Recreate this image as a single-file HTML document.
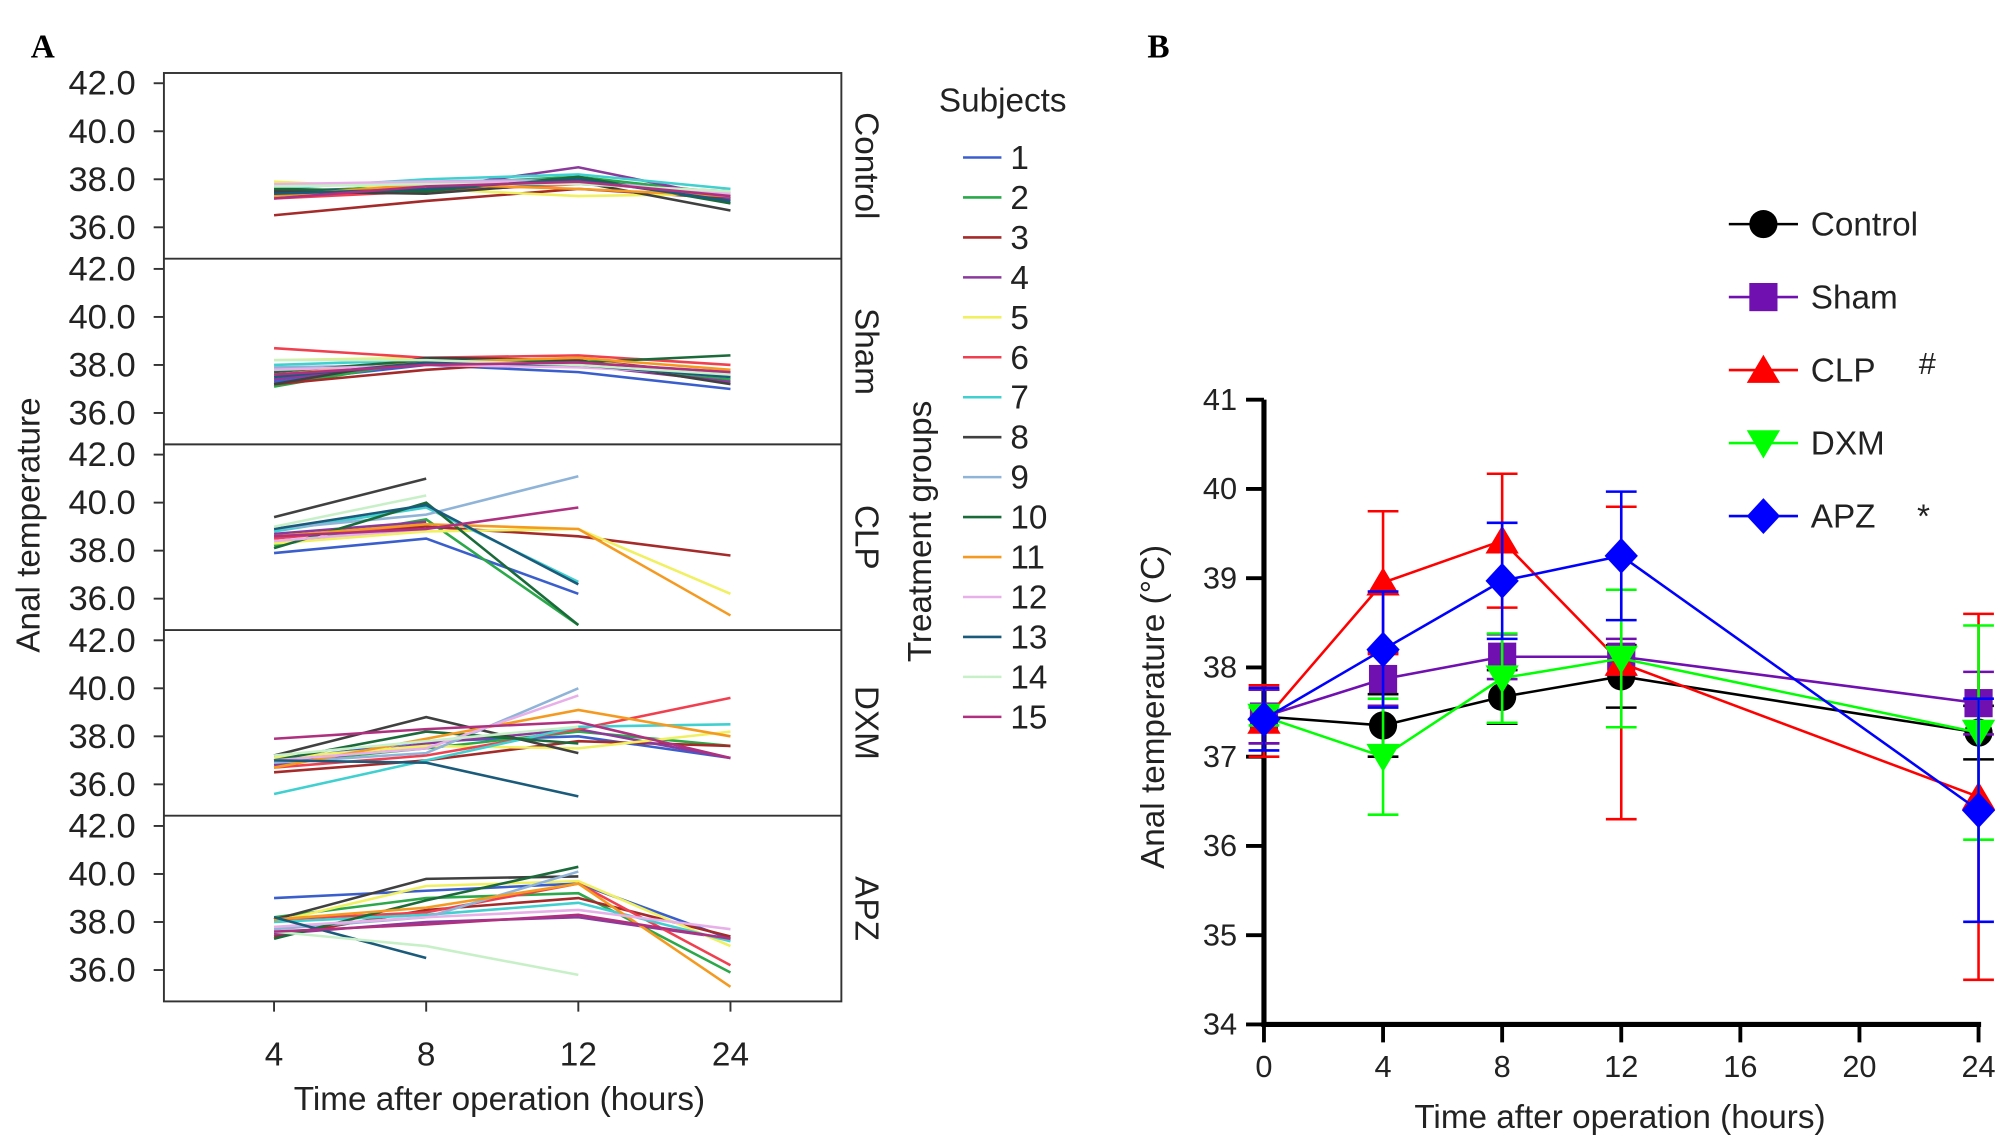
<!DOCTYPE html>
<html><head><meta charset="utf-8"><style>
html,body{margin:0;padding:0;background:#fff}
svg{display:block;font-family:"Liberation Sans",Arial,sans-serif}
</style></head><body>
<svg id="fig" width="2008" height="1147" viewBox="0 0 1568 895.7" preserveAspectRatio="none" xmlns="http://www.w3.org/2000/svg">
<rect width="1568" height="896" fill="#fff"/>
<text x="24" y="45" font-family="Liberation Serif,serif" font-weight="bold" font-size="26">A</text>
<text x="896" y="45" font-family="Liberation Serif,serif" font-weight="bold" font-size="26">B</text>
<g id="A"></g>
<g id="B"></g>
</svg>
<script>
const NS="http://www.w3.org/2000/svg";
// ---- Panel A data ----
const timesA=["4","8","12","24"];
const groupsA=["Control","Sham","CLP","DXM","APZ"];
const yTicksA=[42,40,38,36];
const subjectColors=["#3a5fcd","#2aa84a","#a52a2a","#8b3a9b","#f0f060","#f04050","#40d0d0","#404040","#8fb4d8","#1a6a3a","#f59a20","#e8b0e8","#1a5a7a","#c8f0c8","#b03080"];
const ctrlVals=[[37.5,37.7,38.0,37.3],[37.4,37.8,38.1,37.4],[36.5,37.1,37.6,37.2],[37.3,37.6,38.5,37.2],[37.9,37.6,37.3,37.4],[37.2,37.5,37.8,37.5],[37.6,38.0,38.2,37.6],[37.5,37.4,37.9,36.7],[37.7,37.9,38.0,37.3],[37.6,37.5,38.1,37.0],[37.3,37.8,37.6,37.3],[37.8,37.9,37.9,37.4],[37.4,37.6,38.0,37.1],[37.7,37.8,37.8,37.5],[37.2,37.7,37.9,37.3]];
const shamVals=[[37.3,38.0,37.7,37.0],[37.1,38.2,38.1,37.4],[37.2,37.8,38.2,37.6],[37.4,38.1,38.0,37.3],[38.2,38.3,38.2,37.5],[38.7,38.3,38.4,38.0],[38.0,38.2,38.1,37.7],[37.2,38.3,38.2,37.2],[37.9,38.0,38.0,37.5],[37.7,38.2,38.1,38.4],[37.6,38.1,38.3,37.8],[37.8,38.0,37.9,37.6],[37.5,38.1,38.0,37.5],[38.2,38.2,38.0,37.6],[37.6,38.0,38.1,37.7]];
const clpVals=[[37.9,38.5,36.2,null],[38.2,39.3,34.9,null],[38.6,39.0,38.6,37.8],[38.7,39.2,null,null],[38.3,38.8,38.9,36.2],[38.5,39.1,null,null],[38.8,39.8,36.7,null],[39.4,41.0,null,null],[38.9,39.5,41.1,null],[38.1,40.0,34.9,null],[38.6,39.1,38.9,35.3],[38.4,38.9,null,null],[38.9,39.9,36.6,null],[39.0,40.3,null,null],[38.6,38.9,39.8,null]];
const dxmVals=[[37.0,37.8,38.0,37.1],[36.9,37.5,38.2,37.6],[36.5,37.0,37.8,37.6],[36.8,37.7,38.3,37.1],[37.1,37.6,37.5,38.2],[36.7,37.2,38.3,39.6],[35.6,37.0,38.4,38.5],[37.2,38.8,37.3,null],[36.9,37.3,40.0,null],[37.0,38.2,37.7,null],[36.7,37.9,39.1,38.0],[37.0,37.5,39.7,null],[37.0,36.9,35.5,null],[37.2,37.8,38.4,null],[37.9,38.3,38.6,37.1]];
const apzVals=[[39.0,39.3,39.6,37.3],[38.2,39.0,39.2,35.9],[37.4,38.5,39.0,37.4],[37.5,38.0,38.2,37.3],[38.0,39.5,39.7,37.0],[38.1,38.4,39.6,36.2],[38.0,38.3,38.8,37.2],[38.1,39.8,39.9,null],[37.7,38.2,40.1,null],[37.3,38.9,40.3,null],[38.1,38.6,39.6,35.3],[37.8,38.2,38.5,37.7],[38.2,36.5,null,null],[37.6,37.0,35.8,null],[37.6,37.9,38.3,37.3]];
const groupVals=[ctrlVals,shamVals,clpVals,dxmVals,apzVals];

// ---- Panel B data ----
const timesB=[0,4,8,12,24];
const xTicksB=[0,4,8,12,16,20,24];
const yTicksB=[34,35,36,37,38,39,40,41];
const seriesNames=["Control","Sham","CLP","DXM","APZ"];
const controlMean=[37.45,37.35,37.67,37.9,37.27];
const controlErr=[0.3,0.35,0.3,0.35,0.3];
const shamMean=[37.45,37.87,38.12,38.12,37.6];
const shamErr=[0.3,0.3,0.25,0.2,0.35];
const clpMean=[37.4,38.95,39.42,38.05,36.55];
const clpErr=[0.4,0.8,0.75,1.75,2.05];
const dxmMean=[37.45,37.0,37.88,38.1,37.27];
const dxmErr=[0.1,0.65,0.5,0.77,1.2];
const apzMean=[37.42,38.2,38.97,39.25,36.4];
const apzErr=[0.35,0.65,0.65,0.72,1.25];

function mk(parent,tag,attrs,text){const e=document.createElementNS(NS,tag);for(const k in attrs)e.setAttribute(k,attrs[k]);if(text!==undefined)e.textContent=text;parent.appendChild(e);return e;}

// ---------- Panel A ----------
const A=document.getElementById('A');
const AL=128,AR=657,AT=57,PH=145;
function xA(i){return 214+i*118.8;}
function yA(v,p){return AT+p*PH+8+(42-v)*18.75;}
mk(A,'rect',{x:AL,y:AT,width:AR-AL,height:PH*5,fill:'none',stroke:'#333','stroke-width':1.5});
groupsA.forEach((g,p)=>{
  if(p>0){const l=mk(A,'line',{x1:AL,x2:AR,y1:AT+p*PH,y2:AT+p*PH,stroke:'#333','stroke-width':1.5});}
  yTicksA.forEach(t=>{
    const y=yA(t,p);
    mk(A,'line',{x1:AL-8,x2:AL,y1:y,y2:y,stroke:'#333','stroke-width':1.5});
    const tx=mk(A,'text',{x:AL-22,y:y+9,'text-anchor':'end','font-size':27,fill:'#222'},t.toFixed(1));
    
    
  });
  const cx=675,cy=AT+p*PH+PH/2;
  const st=mk(A,'text',{x:cx,y:cy,transform:`rotate(90 ${cx} ${cy})`,'text-anchor':'middle','dominant-baseline':'middle','font-size':26,fill:'#222'},g);
  
  
  groupVals[p].forEach((vals,s)=>{
    let pts=[];
    vals.forEach((v,i)=>{if(v!==null)pts.push(xA(i).toFixed(1)+','+yA(v,p).toFixed(1));});
    const pl=mk(A,'polyline',{points:pts.join(' '),fill:'none',stroke:subjectColors[s],'stroke-width':2});
    
    
  });
});
timesA.forEach((t,i)=>{
  mk(A,'line',{x1:xA(i),x2:xA(i),y1:AT+PH*5,y2:AT+PH*5+8,stroke:'#333','stroke-width':1.5});
  const tx=mk(A,'text',{x:xA(i),y:832,'text-anchor':'middle','font-size':26,fill:'#222'},t);
  
  
});
let t1=mk(A,'text',{x:390,y:867,'text-anchor':'middle','font-size':26,fill:'#222'},'Time after operation (hours)');

t1=mk(A,'text',{x:31,y:410,transform:'rotate(-90 31 410)','text-anchor':'middle','font-size':26,fill:'#222'},'Anal temperature');

t1=mk(A,'text',{x:727,y:415,transform:'rotate(-90 727 415)','text-anchor':'middle','font-size':26,fill:'#222'},'Treatment groups');

t1=mk(A,'text',{x:783,y:87,'text-anchor':'middle','font-size':26,fill:'#222'},'Subjects');

subjectColors.forEach((c,s)=>{
  const y=123+s*31.2;
  const g=mk(A,'g',{});
  
  
  mk(g,'line',{x1:752,x2:782,y1:y,y2:y,stroke:c,'stroke-width':2});
  mk(g,'text',{x:789,y:y+9,'font-size':26,fill:'#222'},String(s+1));
});

// ---------- Panel B ----------
const B=document.getElementById('B');
function xB(h){return 987+h*23.25;}
function yB(v){return 800-(v-34)*69.7;}
mk(B,'line',{x1:987,x2:987,y1:yB(41),y2:yB(34)+2,stroke:'#000','stroke-width':4});
mk(B,'line',{x1:985,x2:1547,y1:yB(34),y2:yB(34),stroke:'#000','stroke-width':4});
yTicksB.forEach(t=>{
  mk(B,'line',{x1:973,x2:987,y1:yB(t),y2:yB(t),stroke:'#000','stroke-width':3});
  const tx=mk(B,'text',{x:966,y:yB(t)+8,'text-anchor':'end','font-size':24,fill:'#222'},String(t));
  
  
});
xTicksB.forEach(t=>{
  mk(B,'line',{x1:xB(t),x2:xB(t),y1:yB(34),y2:yB(34)+14,stroke:'#000','stroke-width':3});
  const tx=mk(B,'text',{x:xB(t),y:841,'text-anchor':'middle','font-size':24,fill:'#222'},String(t));
  
  
});
t1=mk(B,'text',{x:1265,y:881,'text-anchor':'middle','font-size':26,fill:'#222'},'Time after operation (hours)');

t1=mk(B,'text',{x:909,y:552,transform:'rotate(-90 909 552)','text-anchor':'middle','font-size':26,fill:'#222'},'Anal temperature (°C)');


const sMeans=[controlMean,shamMean,clpMean,dxmMean,apzMean];
const sErrs=[controlErr,shamErr,clpErr,dxmErr,apzErr];
const sColors=["#000000","#7010b0","#ff0000","#00ff00","#0000ff"];
const sMarks=["circle","square","tri","itri","diamond"];
function marker(g,type,x,y,c){
  if(type==='circle')return mk(g,'circle',{cx:x,cy:y,r:11,fill:c});
  if(type==='square')return mk(g,'rect',{x:x-11,y:y-11,width:22,height:22,fill:c});
  if(type==='tri')return mk(g,'polygon',{points:`${x},${y-12} ${x-13},${y+10} ${x+13},${y+10}`,fill:c});
  if(type==='itri')return mk(g,'polygon',{points:`${x},${y+12} ${x-13},${y-10} ${x+13},${y-10}`,fill:c});
  return mk(g,'polygon',{points:`${x},${y-14} ${x+13},${y} ${x},${y+14} ${x-13},${y}`,fill:c});
}
sMeans.forEach((m,s)=>{
  const g=mk(B,'g',{});
  
  
  const c=sColors[s];
  m.forEach((v,i)=>{
    const x=xB(timesB[i]),e=sErrs[s][i];
    const eb=mk(g,'path',{d:`M${x},${yB(v-e)}V${yB(v+e)}M${x-12},${yB(v+e)}h24M${x-12},${yB(v-e)}h24`,stroke:c,'stroke-width':2,fill:'none'});
    
    
  });
  mk(g,'polyline',{points:m.map((v,i)=>xB(timesB[i])+','+yB(v)).join(' '),fill:'none',stroke:c,'stroke-width':2});
  m.forEach((v,i)=>{
    const mm=marker(g,sMarks[s],xB(timesB[i]),yB(v),c);
    
    
  });
  const ly=175+s*57;
  const lg=mk(B,'g',{});
  
  
  mk(lg,'line',{x1:1350,x2:1404,y1:ly,y2:ly,stroke:c,'stroke-width':2});
  marker(lg,sMarks[s],1377,ly,c);
  mk(lg,'text',{x:1414,y:ly+9,'font-size':26,fill:'#222'},seriesNames[s]);
});
t1=mk(B,'text',{x:1505,y:292,'text-anchor':'middle','font-size':24,fill:'#222'},'#');

t1=mk(B,'text',{x:1502,y:412,'text-anchor':'middle','font-size':26,fill:'#222'},'*');

</script>
</body></html>
